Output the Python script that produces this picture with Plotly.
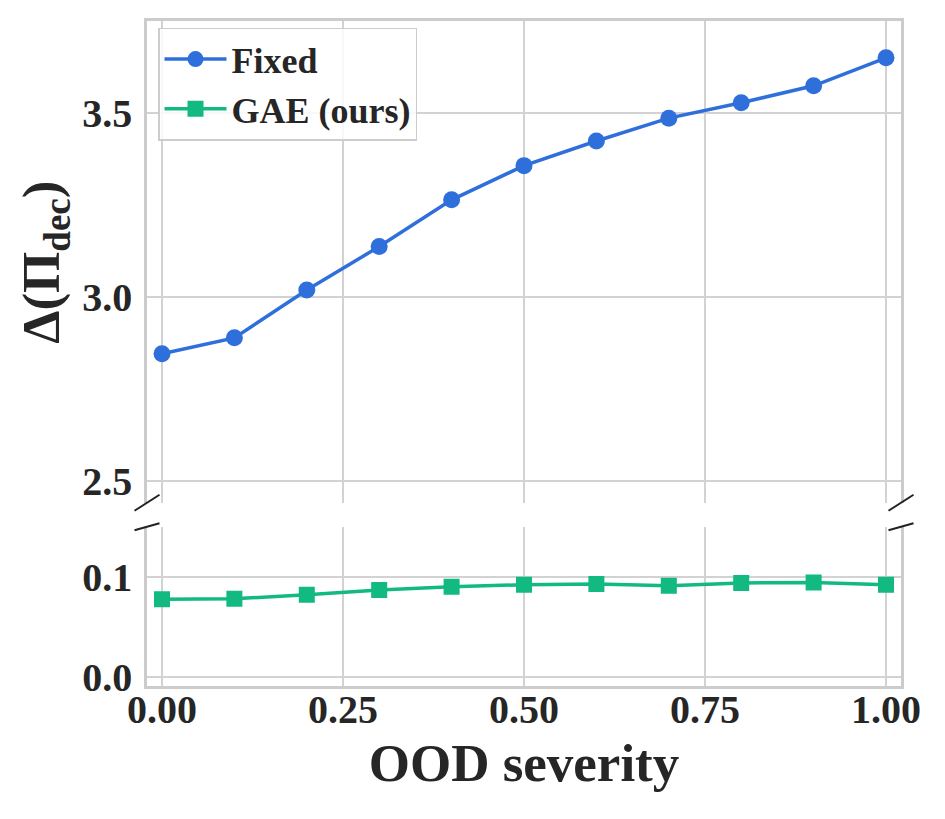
import plotly.graph_objects as go

severity = [0.0, 0.1, 0.2, 0.3, 0.4, 0.5, 0.6, 0.7, 0.8, 0.9, 1.0]
fixed_vals = [2.846, 2.889, 3.019, 3.137, 3.264, 3.357, 3.424, 3.486, 3.528, 3.574, 3.650]
gae_vals = [0.0775, 0.078, 0.082, 0.0867, 0.090, 0.092, 0.0927, 0.091, 0.0937, 0.0943, 0.092]
x_ticks = [0.0, 0.25, 0.5, 0.75, 1.0]
top_ticks = [2.5, 3.0, 3.5]
bottom_ticks = [0.0, 0.1]

BLUE = "#2f6fdc"
GREEN = "#12b981"
TXT = "#262626"
GRID = "#d2d2d2"
SPINE = "#cccccc"
FONT = "Liberation Serif"

fig = go.Figure()
fig.add_trace(go.Scatter(
    x=severity, y=fixed_vals, name="Fixed", mode="lines+markers",
    line=dict(color=BLUE, width=3.5), marker=dict(symbol="circle", size=17, color=BLUE),
    xaxis="x2", yaxis="y2"))
fig.add_trace(go.Scatter(
    x=severity, y=gae_vals, name="GAE (ours)", mode="lines+markers",
    line=dict(color=GREEN, width=3.5), marker=dict(symbol="square", size=16, color=GREEN),
    xaxis="x", yaxis="y"))

tickfont = dict(family=FONT, size=40, color=TXT, weight="bold")
common_y = dict(showline=True, mirror=True, linecolor=SPINE, linewidth=2.5,
                showgrid=True, gridcolor=GRID, gridwidth=1.6, zeroline=False,
                ticks="", tickfont=tickfont, ticklabelstandoff=4)

fig.update_layout(
    width=945, height=819,
    margin=dict(l=147, r=44, t=21, b=133),
    paper_bgcolor="white", plot_bgcolor="white",
    xaxis=dict(domain=[0, 1], anchor="y", range=[-0.0207, 1.0207],
               tickvals=x_ticks, ticktext=[f"{v:.2f}" for v in x_ticks],
               showline=True, mirror=False, linecolor=SPINE, linewidth=2.5,
               showgrid=True, gridcolor=GRID, gridwidth=1.6, zeroline=False,
               ticks="", tickfont=tickfont, ticklabelstandoff=-14,
               title=dict(text="OOD severity", standoff=14,
                          font=dict(family=FONT, size=53, color=TXT, weight="bold"))),
    xaxis2=dict(domain=[0, 1], anchor="y2", matches="x", side="top",
                tickvals=x_ticks, showticklabels=False,
                showline=True, linecolor=SPINE, linewidth=2.5,
                showgrid=True, gridcolor=GRID, gridwidth=1.6, zeroline=False, ticks=""),
    yaxis=dict(domain=[0, 0.2395], anchor="x", range=[-0.0093, 0.15],
               tickvals=bottom_ticks, ticktext=[f"{v:.1f}" for v in bottom_ticks], **common_y),
    yaxis2=dict(domain=[0.2756, 1], anchor="x2", range=[2.441, 3.75],
                tickvals=top_ticks, ticktext=[f"{v:.1f}" for v in top_ticks], **common_y),
    legend=dict(x=0.0146, y=0.99, xanchor="left", yanchor="top",
                bgcolor="rgba(255,255,255,0.85)", bordercolor=SPINE, borderwidth=1.5,
                font=dict(family=FONT, size=36, color=TXT, weight="bold"),
                itemwidth=62, tracegroupgap=0),
    showlegend=True,
)

fig.add_annotation(
    text="Δ(Π<sub>dec</sub>)", textangle=-90, showarrow=False,
    xref="paper", x=-0.1353, xanchor="center", yref="y2 domain", y=0.5, yanchor="middle",
    font=dict(family=FONT, size=53, color=TXT, weight="bold"))

d = 0.0166
db = 0.022
brk = dict(color="#222222", width=2)
for x0 in (0.0, 1.0):
    fig.add_shape(type="line", xref="x domain", yref="y2 domain",
                  x0=x0 - d, x1=x0 + d, y0=-d, y1=d, line=brk)
    fig.add_shape(type="line", xref="x domain", yref="y domain",
                  x0=x0 - d, x1=x0 + d, y0=1 - db, y1=1 + db, line=brk)

fig.write_html("out.html")
